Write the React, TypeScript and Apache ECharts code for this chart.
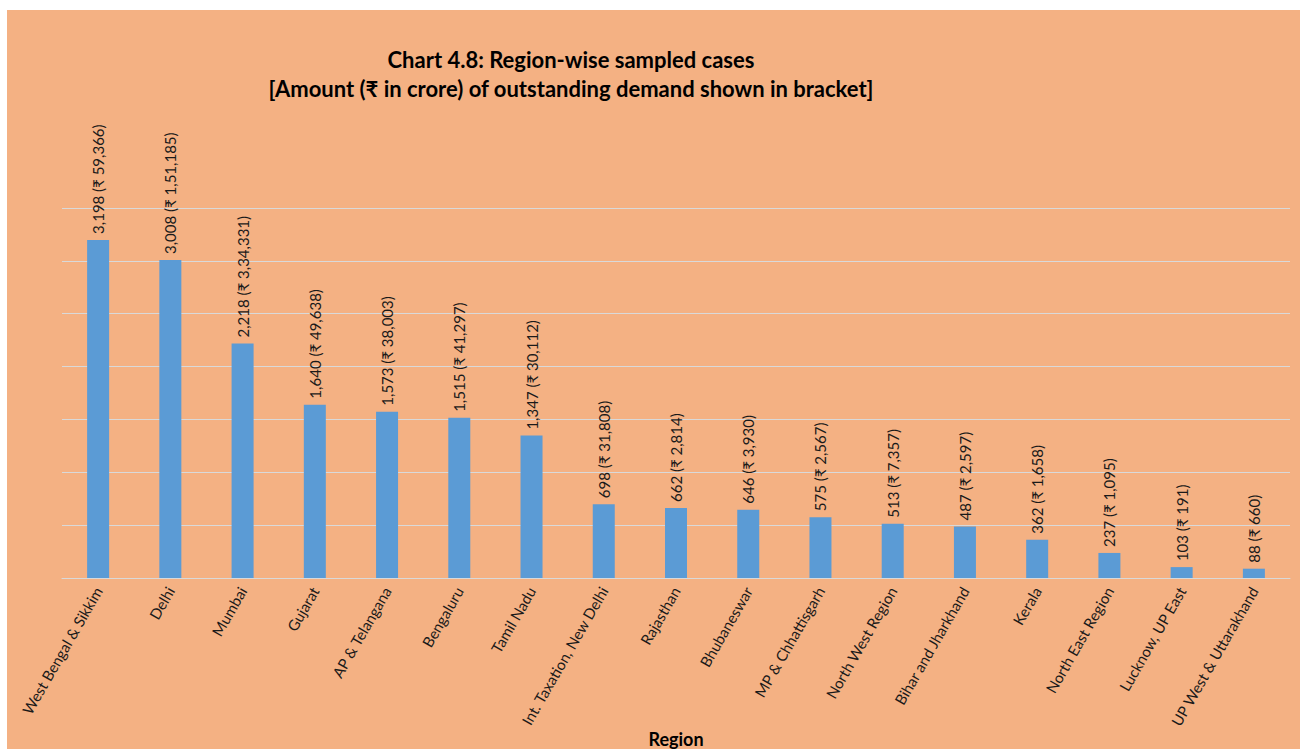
import React, { useEffect, useRef } from "react";
import * as echarts from "echarts";

const regions = [
  "West Bengal & Sikkim",
  "Delhi",
  "Mumbai",
  "Gujarat",
  "AP & Telangana",
  "Bengaluru",
  "Tamil Nadu",
  "Int. Taxation, New Delhi",
  "Rajasthan",
  "Bhubaneswar",
  "MP & Chhattisgarh",
  "North West Region",
  "Bihar and Jharkhand",
  "Kerala",
  "North East Region",
  "Lucknow, UP East",
  "UP West & Uttarakhand",
];

const sampledCases = [3198, 3008, 2218, 1640, 1573, 1515, 1347, 698, 662, 646, 575, 513, 487, 362, 237, 103, 88];

const demandCrore = [
  "59,366", "1,51,185", "3,34,331", "49,638", "38,003", "41,297", "30,112", "31,808",
  "2,814", "3,930", "2,567", "7,357", "2,597", "1,658", "1,095", "191", "660",
];

const yMax = 3500;
const yInterval = 500;

const FONT = "Lato, 'DejaVu Sans', sans-serif";

export default function App() {
  const ref = useRef<HTMLDivElement>(null);

  useEffect(() => {
    if (!ref.current) return;
    const chart = echarts.init(ref.current, null, { renderer: "svg" });
    chart.setOption({
      animation: false,
      backgroundColor: "#F4B183",
      textStyle: { fontFamily: FONT },
      title: {
        text: "Chart 4.8: Region-wise sampled cases\n[Amount (₹ in crore) of outstanding demand shown in bracket]",
        left: 559,
        top: 30,
        textAlign: "center",
        textStyle: {
          fontFamily: FONT,
          fontSize: 22,
          fontWeight: "bold",
          color: "#000000",
          lineHeight: 29,
        },
      },
      grid: {
        left: 55,
        right: 10,
        top: 198,
        bottom: 171,
        containLabel: false,
        outerBoundsMode: "none",
      },
      xAxis: {
        type: "category",
        data: regions,
        name: "Region",
        nameLocation: "middle",
        nameGap: 152,
        nameMoveOverlap: false,
        nameTextStyle: { fontFamily: FONT, fontSize: 18, fontWeight: "bold", color: "#000000" },
        axisLine: { show: true, lineStyle: { color: "#D9D9D9", width: 1 } },
        axisTick: { show: false },
        axisLabel: {
          interval: 0,
          rotate: 60,
          margin: 10,
          fontFamily: FONT,
          fontSize: 15,
          color: "#1a1a1a",
        },
      },
      yAxis: {
        type: "value",
        min: 0,
        max: yMax,
        interval: yInterval,
        axisLabel: { show: false },
        axisLine: { show: false },
        axisTick: { show: false },
        splitLine: { show: true, lineStyle: { color: "#D9D9D9", width: 1 } },
      },
      series: [
        {
          type: "bar",
          data: sampledCases,
          barWidth: 22,
          itemStyle: { color: "#5B9BD5" },
          label: {
            show: true,
            position: "top",
            rotate: 90,
            align: "left",
            verticalAlign: "middle",
            distance: 6,
            fontFamily: FONT,
            fontSize: 15,
            color: "#1a1a1a",
            formatter: (p: any) =>
              `${sampledCases[p.dataIndex].toLocaleString("en-IN")} (₹ ${demandCrore[p.dataIndex]})`,
          },
        },
      ],
    });
    return () => chart.dispose();
  }, []);

  return (
    <div
      ref={ref}
      style={{ position: "absolute", left: 7, top: 10, width: 1293, height: 739 }}
    />
  );
}
